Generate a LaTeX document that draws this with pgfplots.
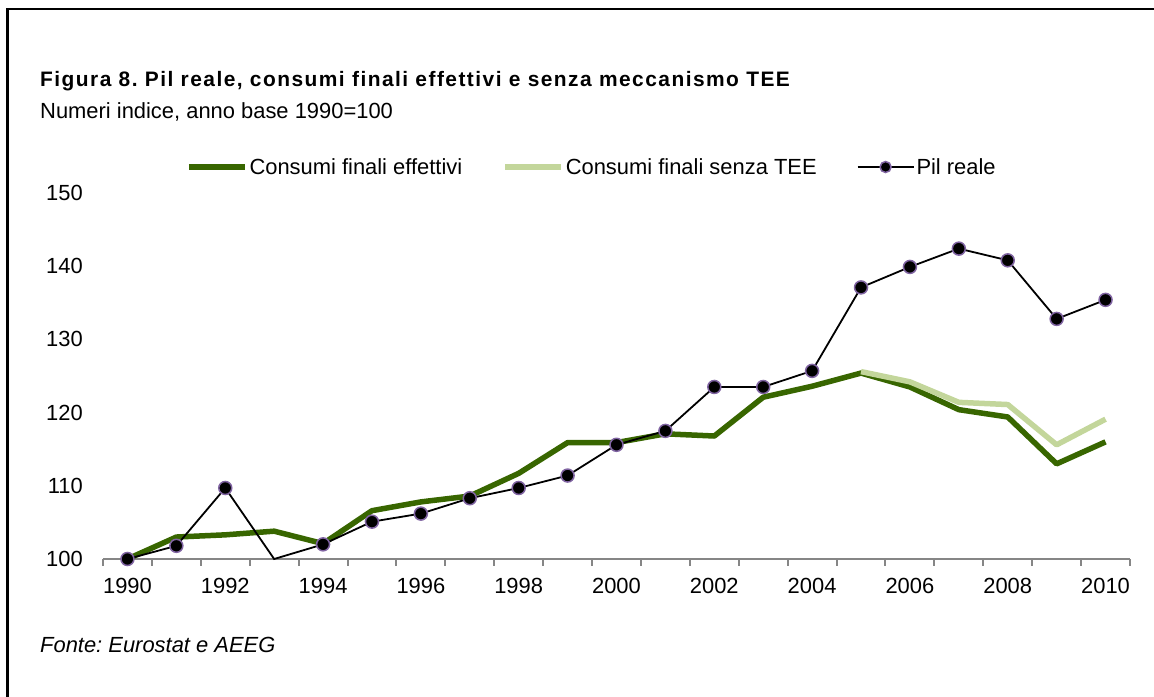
\documentclass[border=0pt]{standalone}
\usepackage{fontspec}
\setmainfont{Liberation Sans}
\usepackage{pgfplots}
\pgfplotsset{compat=1.18}
\definecolor{dkgreen}{RGB}{56,102,0}
\definecolor{ltgreen}{RGB}{195,214,155}
\definecolor{mkpurple}{RGB}{128,100,162}
\definecolor{axgray}{RGB}{134,134,134}
\newcommand{\fs}{\fontsize{22}{26}\selectfont}
\frenchspacing
\begin{document}
\begin{tikzpicture}[x=1bp,y=1bp]
\path[use as bounding box] (-103,-138) rectangle (1051,559);
\draw[line width=2.5bp] (-95.5,-140) -- (-95.5,550) -- (1053,550);
\node[anchor=base west, inner sep=0pt, font=\bfseries\fontsize{21}{24}\selectfont\addfontfeatures{LetterSpace=7}] at (-63,472) {Figura 8. Pil reale, consumi finali effettivi e senza meccanismo TEE};
\node[anchor=base west, inner sep=0pt, font=\fs] at (-63,440) {Numeri indice, anno base 1990=100};
\node[anchor=base west, inner sep=0pt, font=\itshape\fs] at (-63,-94) {Fonte: Eurostat e AEEG};
\begin{axis}[
  at={(0,0)}, anchor=south west, scale only axis,
  width=1027bp, height=366bp,
  xmin=-0.5, xmax=20.5, ymin=100, ymax=150,
  axis x line*=bottom, axis y line*=left,
  axis line style={-},
  x axis line style={axgray, line width=2bp},
  y axis line style={draw=none},
  xtick={0,2,...,20},
  xticklabels={1990,1992,1994,1996,1998,2000,2002,2004,2006,2008,2010},
  minor xtick={-0.5,0.5,...,20.5},
  major tick length=0pt,
  minor tick length=7bp,
  tick align=outside,
  minor x tick style={axgray, line width=2bp},
  ytick={100,110,...,150},
  ytick style={draw=none},
  /pgf/number format/assume math mode=true,
  tick label style={font=\fs},
  yticklabel style={anchor=east, inner sep=0pt, xshift=-20bp},
  xticklabel style={inner sep=0pt, yshift=-19bp},
  legend columns=3,
  legend style={draw=none, fill=none, font=\fs, at={(0.476,1.071)}, anchor=center,
    /tikz/every even column/.append style={column sep=38bp}},
  legend image code/.code={\draw[mark repeat=2,mark phase=2,#1] plot coordinates {(0bp,0bp) (28bp,0bp) (56bp,0bp)};},
  clip=false,
]
\addplot[dkgreen, line width=5.5bp, line join=round] coordinates {
(0,100) (1,103.0) (2,103.3) (3,103.8) (4,102.1) (5,106.6) (6,107.8) (7,108.6) (8,111.7) (9,115.9) (10,115.9)
(11,117.1) (12,116.8) (13,122.1) (14,123.6) (15,125.4) (16,123.5) (17,120.4) (18,119.4) (19,113.0) (20,116.0)};
\addlegendentry{Consumi finali effettivi}
\addplot[ltgreen, line width=5.5bp, line join=round] coordinates {
(15,125.6) (16,124.2) (17,121.4) (18,121.1) (19,115.6) (20,119.1)};
\addlegendentry{Consumi finali senza TEE}
\addplot[black, line width=1.8bp, forget plot] coordinates {
(0,100) (1,101.8) (2,109.7) (3,100) (4,102.0) (5,105.1) (6,106.2) (7,108.3) (8,109.7) (9,111.4) (10,115.6)
(11,117.5) (12,123.5) (13,123.5) (14,125.7) (15,137.1) (16,139.9) (17,142.4) (18,140.8) (19,132.8) (20,135.4)};
\addplot[only marks, mark=*, mark size=6.5bp, mark options={fill=black, draw=mkpurple, line width=1.5bp}, forget plot] coordinates {
(0,100) (1,101.8) (2,109.7) (4,102.0) (5,105.1) (6,106.2) (7,108.3) (8,109.7) (9,111.4) (10,115.6)
(11,117.5) (12,123.5) (13,123.5) (14,125.7) (15,137.1) (16,139.9) (17,142.4) (18,140.8) (19,132.8) (20,135.4)};
\addlegendimage{black, line width=1.8bp, mark=*, mark size=5.5bp, mark options={fill=black, draw=mkpurple, line width=1.5bp}}
\addlegendentry{Pil reale}
\end{axis}
\end{tikzpicture}
\end{document}
